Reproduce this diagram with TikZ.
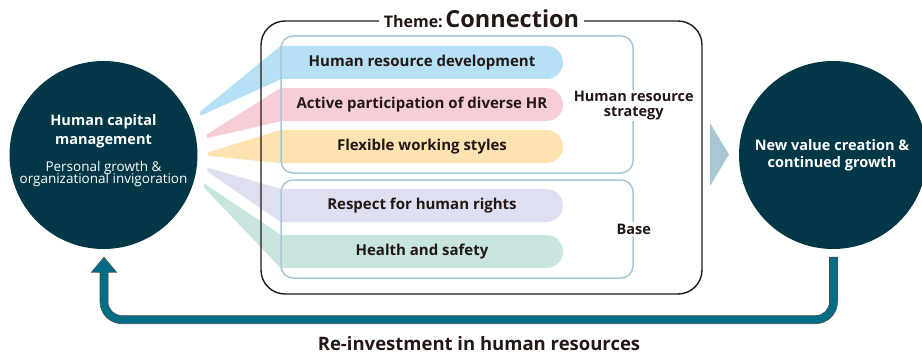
\documentclass[tikz,border=0pt]{standalone}
\usepackage{fontspec}
\setmainfont{Open Sans}
\usepackage{tikz}
\usetikzlibrary{shapes.misc,arrows.meta,positioning,calc}
\definecolor{hcnavy}{HTML}{023748}
\definecolor{hcteal}{HTML}{006E86}
\definecolor{hcink}{HTML}{231815}
\definecolor{hcframe}{HTML}{A8C7D4}
\definecolor{hcchev}{HTML}{A9C7D2}
\definecolor{barblue}{HTML}{B5E0F5}
\definecolor{barpink}{HTML}{F7CDD6}
\definecolor{baryellow}{HTML}{FDE3B1}
\definecolor{barlav}{HTML}{DEE0F2}
\definecolor{bargreen}{HTML}{C8E6DF}

\begin{document}
\begin{tikzpicture}[
      x=1pt, y=1pt,
      hub/.style={circle, fill=hcnavy, minimum size=188pt, inner sep=0pt},
      hubtext/.style={text=white, align=center, inner sep=0pt},
      bar/.style={rounded rectangle, rounded rectangle west arc=none,
                  minimum width=282pt, minimum height=33pt, inner sep=0pt,
                  text=hcink, font=\fontsize{15}{17}\selectfont\bfseries},
      group/.style={rectangle, draw=hcframe, line width=1.5pt, rounded corners=12pt,
                    minimum width=352pt},
      tag/.style={fill=white, inner sep=1.5pt, align=center, text=hcink,
                  font=\fontsize{14.5}{15}\selectfont\bfseries},
      loopband/.style={fill=hcteal, draw=black!70, line width=0.6pt}
    ]
      \useasboundingbox (0,0) rectangle (922,357);
      %% the two hubs
      \node[hub] (hcm) at (103.5,202) {};
      \node[hub] (nv) at (833,202) {};
      \node[hubtext, font=\fontsize{14.5}{20}\selectfont\bfseries] (hcmtitle)
          at ($(hcm.center)+(0,24)$) {Human capital\\[-1pt]management};
      \node[hubtext, font=\fontsize{13.5}{15}\selectfont] (hcmsub)
          at ($(hcm.center)+(0,-19)$) {Personal growth \&\\[-3pt]organizational invigoration};
      \node[hubtext, font=\fontsize{14.5}{18}\selectfont\bfseries] (nvtitle)
          at ($(nv.center)+(-1,0)$) {New value creation \&\\[-1pt]continued growth};
      %% bars and their wedges
      \foreach \name/\col/\yy/\ang in {dev/barblue/294.5/23,
                                       div/barpink/252.5/10.2,
                                       flex/baryellow/210.5/0.5,
                                       rights/barlav/151.5/-8,
                                       safe/bargreen/105.5/-16.8} {
        \node[bar, fill=\col] (\name) at (422,\yy) {};
        \fill[\col] ($(hcm.center)+(\ang+1:105)$) -- (\name.north west)
            -- (\name.south west) -- ($(hcm.center)+(\ang-1:105)$) -- cycle;
      }
      \node[bar, fill=none] at (dev)    {Human resource development};
      \node[bar, fill=none] at (div)    {Active participation of diverse HR};
      \node[bar, fill=none] at (flex)   {Flexible working styles};
      \node[bar, fill=none] at (rights) {Respect for human rights};
      \node[bar, fill=none] at (safe)   {Health and safety};
      %% theme frame and groups
      \node[rectangle, draw=hcink, line width=1.4pt, rounded corners=24pt,
            minimum width=441pt, minimum height=273pt] (theme) at (481.5,199.5) {};
      \node[fill=white, inner sep=5pt, text=hcink, yshift=2pt] (title) at (theme.north)
          {\fontsize{16}{18}\selectfont\bfseries Theme:\,\fontsize{23.5}{24}\selectfont Connection};
      \node[group, minimum height=137pt] (strat) at (457,252.5) {};
      \node[group, minimum height=98pt]  (base)  at (457,128) {};
      \node[tag] (strattag) at ($(strat.east)+(0,-1)$) {Human resource\\strategy};
      \node[tag] (basetag)  at (base.east)  {Base};
      %% chevron towards the outcome
      \fill[hcchev] (710,234) -- (729,202.5) -- (710,171) -- cycle;
      %% re-investment loop
      \coordinate (lt) at ($(hcm.south)+(0.5,-8)$);
      \coordinate (rb) at ($(nv.south)+(0.5,-8)$);
      \filldraw[loopband] (lt) -- ++(12.5,-15) -- ++(-8.5,0)
          -- ($(lt)+(4,-44.5)$) arc[start angle=180, end angle=270, radius=14pt]
          -- ($(rb)+(-18,-58.5)$) arc[start angle=270, end angle=360, radius=14pt]
          -- ($(rb)+(-4,0)$) -- ($(rb)+(4,0)$)
          -- ($(rb)+(4,-44.5)$) arc[start angle=0, end angle=-90, radius=22pt]
          -- ($(lt)+(18,-66.5)$) arc[start angle=270, end angle=180, radius=22pt]
          -- ($(lt)+(-4,-15)$) -- ++(-8.5,0) -- cycle;
      \node[text=hcink, font=\fontsize{18.5}{20}\selectfont\bfseries] (reinv) at (479,13)
          {Re-investment in human resources};
    \end{tikzpicture}
\end{document}
